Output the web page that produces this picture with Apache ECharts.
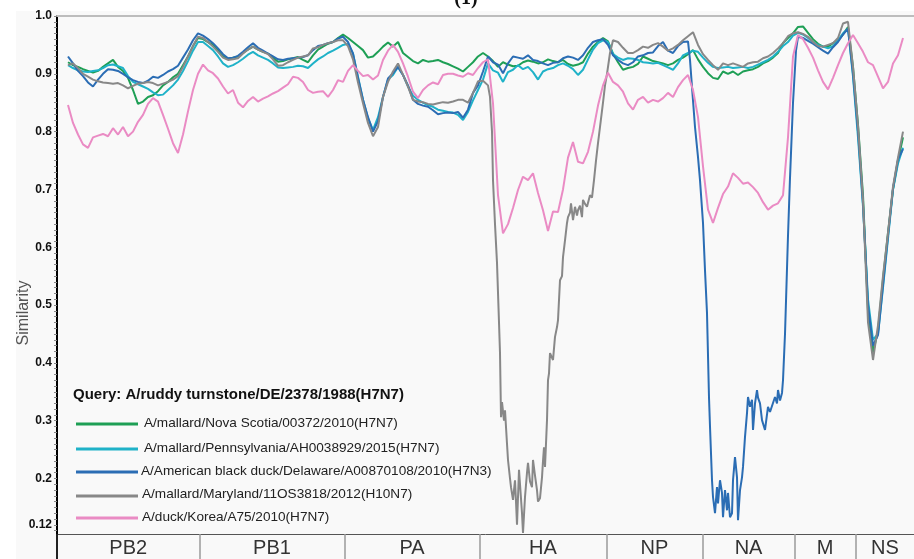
<!DOCTYPE html>
<html>
<head>
<meta charset="utf-8">
<script src="https://cdn.jsdelivr.net/npm/echarts@6/dist/echarts.min.js"></script>
<style>
  html, body { margin: 0; padding: 0; background: #ffffff; }
  #chart { width: 914px; height: 559px; }
</style>
</head>
<body>
<div id="chart"></div>
<script>
// Concatenated genome: segment names and their start positions (nt)
const segmentNames = ['PB2', 'PB1', 'PA', 'HA', 'NP', 'NA', 'M', 'NS'];
const segmentStarts = [0, 2280, 4600, 6760, 8790, 10330, 11800, 12780];
const genomeEnd = 13712;

// Sliding-window centres: first window and step (nt)
const windowStart = 176;
const windowStep = 80;

const queryName = 'Query: A/ruddy turnstone/DE/2378/1988(H7N7)';
const seriesNames = [
  'A/mallard/Nova Scotia/00372/2010(H7N7)',
  'A/mallard/Pennsylvania/AH0038929/2015(H7N7)',
  'A/American black duck/Delaware/A00870108/2010(H7N3)',
  'A/mallard/Maryland/11OS3818/2012(H10N7)',
  'A/duck/Korea/A75/2010(H7N7)'
];

const yTickValues = [0.12, 0.2, 0.3, 0.4, 0.5, 0.6, 0.7, 0.8, 0.9, 1.0];

// Similarity per window (null = covered by the finer-step arrays below)
const novaScotia = [
  0.920,0.915,0.912,0.908,0.905,0.902,0.905,0.912,0.918,0.924,
  0.912,0.905,0.893,0.872,0.848,0.852,0.860,0.863,0.870,0.880,
  0.886,0.894,0.900,0.915,0.930,0.948,0.962,0.960,0.955,0.950,
  0.940,0.930,0.926,0.928,0.930,0.936,0.942,0.947,0.942,0.938,
  0.935,0.928,0.921,0.922,0.925,0.927,0.929,0.924,0.920,0.932,
  0.942,0.947,0.952,0.955,0.962,0.968,0.962,0.955,0.948,0.941,
  0.928,0.930,0.938,0.947,0.954,0.947,0.955,0.936,0.929,0.922,
  0.918,0.924,0.921,0.922,0.924,0.920,0.917,0.913,0.909,0.904,
  0.912,0.920,0.930,0.936,0.930,0.922,0.912,0.920,0.916,0.913,
  0.914,0.920,0.923,0.921,0.918,0.920,0.925,0.922,0.920,0.924,
  0.917,0.914,0.916,0.920,0.935,0.947,0.955,0.962,0.956,0.935,
  0.920,0.907,0.910,0.912,0.917,0.930,0.926,0.922,0.920,0.918,
  0.915,0.918,0.924,0.928,0.934,0.941,0.925,0.912,0.901,0.893,
  0.891,0.904,0.900,0.904,0.898,0.904,0.906,0.908,0.912,0.918,
  0.922,0.928,0.936,0.953,0.962,0.970,0.981,0.982,0.971,0.960,
  0.952,0.947,0.947,0.953,0.958,0.968,0.981,0.912,0.812,0.690,
  0.490,0.418,0.455,0.545,0.625,0.700,0.750,0.790
];

const pennsylvania = [
  0.915,0.910,0.906,0.904,0.903,0.905,0.906,0.910,0.915,0.916,
  0.913,0.910,0.896,0.886,0.882,0.878,0.874,0.868,0.863,0.864,
  0.872,0.880,0.890,0.905,0.922,0.940,0.955,0.955,0.948,0.941,
  0.930,0.918,0.912,0.915,0.920,0.926,0.933,0.938,0.932,0.928,
  0.924,0.918,0.911,0.910,0.911,0.912,0.914,0.913,0.910,0.918,
  0.925,0.930,0.936,0.940,0.945,0.950,0.952,0.935,0.895,0.855,
  0.823,0.803,0.825,0.860,0.890,0.898,0.912,0.898,0.878,0.862,
  0.855,0.850,0.846,0.843,0.838,0.836,0.834,0.833,0.829,0.820,
  0.834,0.854,0.872,0.890,0.918,0.906,0.902,0.886,0.903,0.907,
  0.915,0.908,0.912,0.903,0.890,0.904,0.908,0.910,0.915,0.918,
  0.914,0.908,0.898,0.907,0.925,0.942,0.953,0.958,0.955,0.934,
  0.928,0.924,0.927,0.926,0.924,0.920,0.919,0.918,0.919,0.915,
  0.911,0.907,0.918,0.932,0.936,0.940,0.938,0.928,0.919,0.912,
  0.910,0.911,0.912,0.910,0.911,0.912,0.910,0.912,0.916,0.920,
  0.924,0.930,0.938,0.948,0.955,0.966,0.971,0.968,0.962,0.955,
  0.950,0.947,0.944,0.948,0.958,0.970,0.978,0.895,0.790,0.670,
  0.510,0.440,0.450,0.530,0.615,0.700,0.745,0.772
];

const delaware = [
  0.930,0.918,0.905,0.896,0.885,0.878,0.890,0.900,0.908,0.907,
  0.905,0.900,0.894,0.889,0.886,0.884,0.888,0.895,0.893,0.898,
  0.904,0.908,0.914,0.928,0.942,0.958,0.970,0.966,0.960,0.953,
  0.944,0.934,0.927,0.928,0.931,0.938,0.946,0.953,0.945,0.940,
  0.935,0.930,0.925,0.924,0.926,0.927,0.928,0.929,0.932,0.941,
  0.948,0.950,0.953,0.955,0.961,0.964,0.955,0.935,0.893,0.855,
  0.825,0.800,0.818,0.860,0.892,0.901,0.912,0.898,0.880,0.855,
  0.848,0.845,0.843,0.837,0.830,0.832,0.833,0.832,0.834,0.824,
  0.838,0.867,0.880,0.904,0.930,0.920,0.916,0.901,0.918,0.930,
  0.928,0.926,0.932,0.924,0.922,0.918,0.915,0.919,0.920,0.927,
  0.930,0.928,0.924,0.932,0.945,0.955,0.958,0.960,0.950,0.932,
  0.924,0.918,0.915,0.920,0.930,0.932,0.936,0.937,0.948,0.955,
  0.940,0.936,0.948,0.955,null,null,null,null,null,null,
  null,null,null,null,null,null,null,null,null,null,
  null,null,null,null,null,null,null,0.962,0.957,0.952,
  0.946,0.940,0.935,0.946,0.955,0.968,0.978,0.900,0.800,0.675,
  0.500,0.430,0.448,0.535,0.620,0.702,0.752,0.770
];

// NA dip of the Delaware strain, finer step
const delawareDipPos = [
  10096,10128,10160,10208,10256,10288,10336,10368,10400,10432,
  10448,10480,10496,10528,10560,10576,10608,10640,10656,10688,
  10720,10736,10768,10800,10816,10848,10880,10896,10928,10960,
  10976,11008,11040,11056,11088,11120,11136,11168,11200,11216,
  11248,11280,11328,11376,11408,11440,11488,11520,11536,11568,
  11600,11616,11648,11696,11728,11776,11824,11856
];
const delawareDipVal = [
  0.956,0.924,0.877,0.808,0.756,0.716,0.642,0.560,0.486,0.340,
  0.290,0.197,0.168,0.140,0.185,0.157,0.197,0.175,0.133,0.180,
  0.145,0.175,0.133,0.140,0.197,0.237,0.202,0.128,0.180,0.202,
  0.220,0.272,0.313,0.341,0.324,0.336,0.284,0.330,0.353,0.340,
  0.330,0.301,0.284,0.324,0.315,0.318,0.341,0.330,0.353,0.335,
  0.348,0.370,0.450,0.620,0.720,0.850,0.940,0.964
];

const maryland = [
  0.915,0.918,0.910,0.900,0.895,0.890,0.887,0.885,0.884,0.883,
  0.884,0.880,0.875,0.879,0.883,0.884,0.886,0.884,0.880,0.883,
  0.886,0.890,0.896,0.912,0.930,0.948,0.964,0.962,0.955,0.947,
  0.938,0.928,0.924,0.925,0.927,0.935,0.942,0.947,0.942,0.938,
  0.934,0.925,0.914,0.915,0.920,0.924,0.928,0.930,0.932,0.944,
  0.946,0.950,0.953,0.955,0.958,0.958,0.948,0.925,0.885,0.849,
  0.815,0.792,0.808,0.860,0.886,0.904,0.918,0.898,0.878,0.855,
  0.852,0.851,0.848,0.847,0.849,0.851,0.850,0.852,0.855,0.855,
  0.850,0.867,0.887,0.888,0.880,null,null,null,null,null,
  null,null,null,null,null,null,null,null,null,null,
  null,null,null,null,null,null,null,null,null,null,
  0.955,0.945,0.936,0.936,0.941,0.947,0.945,0.950,0.953,0.947,
  0.940,0.944,0.950,0.958,0.965,0.972,0.950,0.934,0.924,0.915,
  0.907,0.918,0.915,0.918,0.915,0.912,0.918,0.920,0.921,0.927,
  0.930,0.936,0.944,0.953,0.965,0.970,0.972,0.969,0.964,0.955,
  0.948,0.947,0.950,0.953,0.962,0.987,0.990,0.912,0.810,0.682,
  0.470,0.405,0.465,0.550,0.625,0.705,0.755,0.800
];

// HA dip of the Maryland strain, finer step
const marylandDipPos = [
  6928,6960,6976,7008,7040,7072,7088,7104,7120,7152,
  7168,7200,7216,7248,7264,7296,7328,7344,7360,7392,
  7408,7440,7456,7488,7520,7536,7568,7600,7616,7648,
  7680,7696,7728,7760,7776,7792,7808,7840,7856,7872,
  7888,7920,7936,7968,8000,8016,8048,8080,8096,8128,
  8160,8176,8208,8224,8256,8288,8320,8336,8368,8400,
  8416,8448,8480,8528,8560,8592,8624,8656,8688,8736,
  8768,8800,8848,8896
];
const marylandDipVal = [
  0.860,0.800,0.716,0.640,0.573,0.470,0.417,0.306,0.332,0.300,
  0.318,0.260,0.232,0.200,0.185,0.163,0.197,0.160,0.120,0.215,
  0.190,0.140,0.106,0.168,0.210,0.227,0.195,0.185,0.232,0.205,
  0.180,0.160,0.166,0.202,0.230,0.254,0.220,0.301,0.370,0.382,
  0.417,0.420,0.405,0.445,0.462,0.474,0.543,0.550,0.583,0.612,
  0.642,0.652,0.660,0.676,0.647,0.670,0.655,0.664,0.672,0.652,
  0.682,0.675,0.670,0.690,0.686,0.716,0.750,0.780,0.808,0.850,
  0.880,0.900,0.936,0.958
];

const korea = [
  0.846,0.815,0.795,0.778,0.772,0.790,0.793,0.796,0.792,0.806,
  0.795,0.808,0.792,0.800,0.817,0.829,0.848,0.858,0.852,0.829,
  0.805,0.780,0.763,0.795,0.835,0.872,0.900,0.916,0.906,0.901,
  0.892,0.878,0.866,0.872,0.850,0.842,0.853,0.860,0.852,0.857,
  0.861,0.866,0.870,0.876,0.882,0.895,0.893,0.886,0.872,0.867,
  0.869,0.870,0.860,0.872,0.889,0.886,0.905,0.915,0.905,0.896,
  0.898,0.890,0.897,0.924,0.940,0.950,0.938,0.918,0.895,0.869,
  0.858,0.872,0.880,0.885,0.882,0.898,0.900,0.900,0.897,0.895,
  0.901,0.898,0.910,0.920,0.925,0.849,0.690,0.624,0.640,0.668,
  0.699,0.722,0.716,0.728,0.694,0.664,0.628,0.662,0.661,0.700,
  0.755,0.782,0.748,0.745,0.765,0.800,0.845,0.880,0.902,0.886,
  0.880,0.869,0.849,0.838,0.855,0.860,0.850,0.855,0.852,0.858,
  0.867,0.860,0.877,0.889,0.898,0.872,0.825,0.740,0.665,0.642,
  0.668,0.692,0.705,0.728,0.720,0.710,0.712,0.704,0.694,0.678,
  0.665,0.672,0.676,0.690,0.790,0.930,0.967,0.960,0.945,0.928,
  0.906,0.886,0.873,0.893,0.915,0.936,0.953,0.967,0.953,0.938,
  0.920,0.915,0.895,0.875,0.886,0.918,0.932,0.962
];

// ---- building the plot ----
const lineColors = ['#1e9f55', '#1fb2c8', '#2b6db4', '#888888', '#ea8bc4'];

function toPoints(values, dipPos, dipVal) {
  const pts = [];
  values.forEach(function (v, i) {
    if (v !== null) pts.push([windowStart + i * windowStep, v]);
  });
  if (dipPos) dipPos.forEach(function (p, i) { pts.push([p, dipVal[i]]); });
  pts.sort(function (a, b) { return a[0] - b[0]; });
  return pts;
}

const seriesData = [
  toPoints(novaScotia),
  toPoints(pennsylvania),
  toPoints(delaware, delawareDipPos, delawareDipVal),
  toPoints(maryland, marylandDipPos, marylandDipVal),
  toPoints(korea)
];

const segmentMids = segmentStarts.map(function (s, i) {
  const e = i + 1 < segmentStarts.length ? segmentStarts[i + 1] : genomeEnd;
  return (s + e) / 2;
});

const minorTicks = [];
for (let k = 11; k <= 100; k++) minorTicks.push(k / 100);

const chart = echarts.init(document.getElementById('chart'), null, { renderer: 'canvas' });

const legendRowsY = [423, 448, 471, 494, 517];
const legendLineY = [424, 449, 472, 496, 518];
const legendTextX = [144, 144, 141, 142, 142];

const graphics = [
  { type: 'rect', z: -10, silent: true,
    shape: { x: 16, y: 11, width: 898, height: 548 },
    style: { fill: '#f9f9f9' } },
  { type: 'text', z: 10, x: 466, y: 9,
    style: { text: '(1)', font: 'bold 20px "Liberation Serif"', fill: '#111',
             align: 'center', verticalAlign: 'bottom' } },
  { type: 'text', z: 10, x: 24, y: 313, rotation: Math.PI / 2,
    style: { text: 'Similarity', font: '16px "Liberation Sans"', fill: '#555',
             align: 'center', verticalAlign: 'middle' } },
  { type: 'line', z: 10, shape: { x1: 57, y1: 534, x2: 57, y2: 559 },
    style: { stroke: '#222', lineWidth: 2 } },
  { type: 'text', z: 10, x: 73, y: 395,
    style: { text: queryName, font: 'bold 15px "Liberation Sans"', fill: '#111',
             align: 'left', verticalAlign: 'middle' } }
];
seriesNames.forEach(function (name, k) {
  graphics.push({ type: 'line', z: 10,
    shape: { x1: 76, y1: legendLineY[k], x2: 138, y2: legendLineY[k] },
    style: { stroke: lineColors[k], lineWidth: 3 } });
  graphics.push({ type: 'text', z: 10, x: legendTextX[k], y: legendRowsY[k],
    style: { text: name, font: '13.6px "Liberation Sans"', fill: '#222',
             align: 'left', verticalAlign: 'middle' } });
});

chart.setOption({
  animation: false,
  backgroundColor: '#ffffff',
  grid: { left: 57, right: 0, top: 16, bottom: 25 },
  xAxis: [
    {
      type: 'value', min: 0, max: genomeEnd, position: 'bottom',
      axisLine: { show: true, lineStyle: { color: '#555', width: 1 } },
      axisTick: { show: true, customValues: segmentStarts.slice(1), length: 25,
                  lineStyle: { color: '#9a9a9a', width: 1.5 } },
      axisLabel: {
        customValues: segmentMids, margin: 4,
        fontSize: 20, color: '#333', fontFamily: 'Liberation Sans',
        formatter: function (v) {
          let best = 0;
          segmentMids.forEach(function (m, i) {
            if (Math.abs(m - v) < Math.abs(segmentMids[best] - v)) best = i;
          });
          return segmentNames[best];
        }
      },
      splitLine: { show: false }
    },
    {
      type: 'value', min: 0, max: genomeEnd, position: 'top',
      axisLine: { show: true, lineStyle: { color: '#bdbdbd', width: 2 } },
      axisTick: { show: false }, axisLabel: { show: false }, splitLine: { show: false }
    }
  ],
  yAxis: {
    type: 'value', min: 0.104, max: 1.0,
    axisLine: { show: true, lineStyle: { color: '#000', width: 2 } },
    axisTick: { show: true, customValues: minorTicks, length: 3,
                lineStyle: { color: '#888', width: 1 } },
    axisLabel: {
      customValues: yTickValues, margin: 5,
      fontSize: 12, fontWeight: 'bold', color: '#111', fontFamily: 'Liberation Sans',
      formatter: function (v) { return v >= 0.999 ? '1.0' : String(+v.toFixed(2)); }
    },
    splitLine: { show: false }
  },
  series: seriesNames.map(function (name, k) {
    return {
      type: 'line', name: name, data: seriesData[k],
      showSymbol: false, symbol: 'none', z: 2 + k,
      lineStyle: { width: 2, color: lineColors[k] },
      itemStyle: { color: lineColors[k] }
    };
  }),
  graphic: graphics
});
</script>
</body>
</html>
